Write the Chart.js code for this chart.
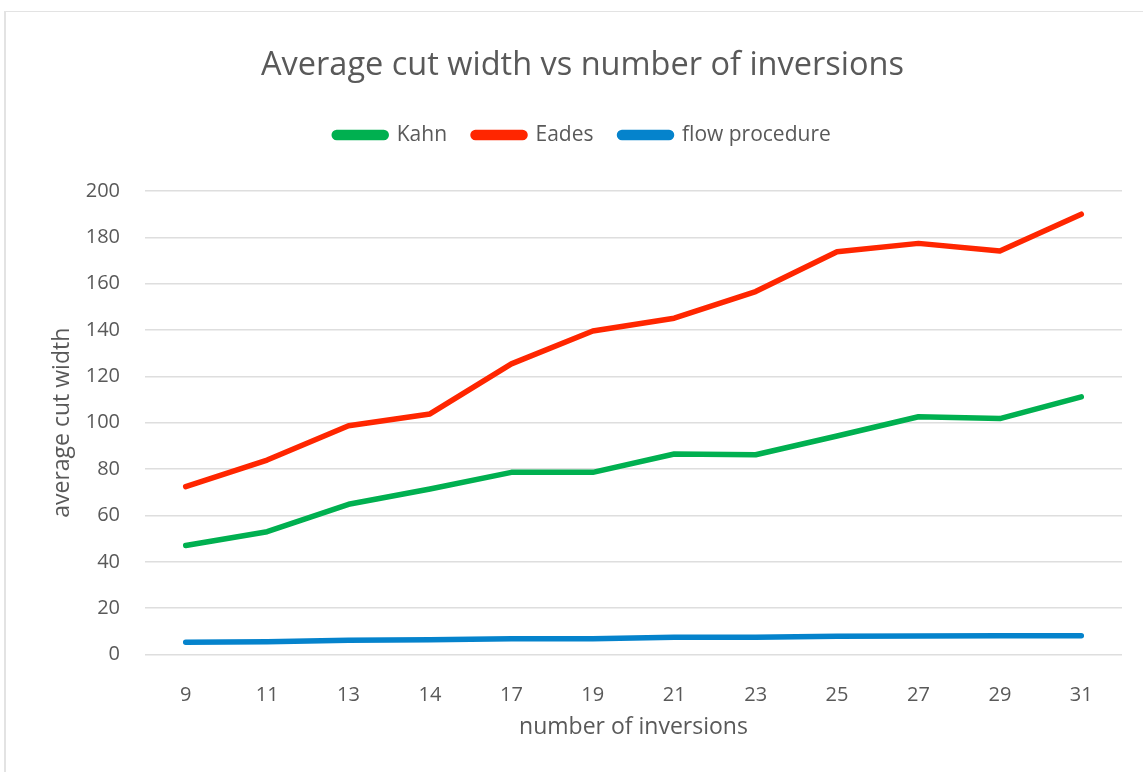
<!DOCTYPE html>
<html>
<head>
<meta charset="utf-8">
<title>Average cut width vs number of inversions</title>
<script src="https://cdn.jsdelivr.net/npm/chart.js@4"></script>
<style>
  html, body { margin: 0; padding: 0; background: #fff; overflow: hidden; }
  #frame {
    position: absolute; left: 4px; top: 11px; width: 1200px; height: 800px;
    border-left: 2px solid #e3e3e3; border-top: 1px solid #e3e3e3;
  }
  #wrap { position: absolute; left: 0; top: 0; width: 1165px; height: 772px; }
</style>
</head>
<body>
<div id="frame"></div>
<div id="wrap"><canvas id="canvas" width="1165" height="772"></canvas></div>
<script>
const inversions = ['9', '11', '13', '14', '17', '19', '21', '23', '25', '27', '29', '31'];
const kahn  = [47.0, 53.0, 64.8, 71.4, 78.6, 78.6, 86.5, 86.2, 94.3, 102.6, 101.8, 111.2];
const eades = [72.4, 83.9, 98.7, 103.8, 125.4, 139.6, 145.1, 156.6, 173.8, 177.4, 174.1, 190.0];
const flow  = [5.3, 5.5, 6.1, 6.4, 6.8, 6.8, 7.4, 7.4, 7.9, 8.0, 8.1, 8.1];
const yTicks = [0, 20, 40, 60, 80, 100, 120, 140, 160, 180, 200];

const fontFamily = '"Open Sans", Lato, sans-serif';
const textColor = '#595959';
Chart.defaults.font.family = fontFamily;
Chart.defaults.color = textColor;

function series(label, data, color){
    return {
        label: label,
        data: data,
        borderColor: color,
        backgroundColor: color,
        borderWidth: 5.5,
        borderCapStyle: 'round',
        borderJoinStyle: 'round',
        pointRadius: 0,
        pointHoverRadius: 0,
        tension: 0,
        fill: false
    };
}

const ctx = document.getElementById('canvas').getContext('2d');
const myChart = new Chart(ctx, {
    type: 'line',
    data: {
        labels: inversions,
        datasets: [
            series('Kahn', kahn, '#00b050'),
            series('Eades', eades, '#ff2600'),
            series('flow procedure', flow, '#0583cc')
        ]
    },
    options: {
        responsive: false,
        animation: false,
        layout: { padding: 0 },
        plugins: {
            title: {
                display: true,
                text: 'Average cut width vs number of inversions',
                color: textColor,
                font: { size: 32.5, weight: 'normal' },
                padding: { top: 46, bottom: 13.5 }
            },
            legend: {
                display: true,
                position: 'top',
                labels: {
                    boxWidth: 52,
                    boxHeight: 5,
                    padding: 26,
                    color: textColor,
                    font: { size: 21 },
                    useBorderRadius: true,
                    borderRadius: 2.5
                }
            },
            // empty block between legend and plot
            subtitle: {
                display: true,
                text: '',
                weight: 500,
                font: { size: 10 },
                padding: { top: 23.5, bottom: 0 }
            },
            tooltip: { enabled: false }
        },
        scales: {
            x: {
                offset: true,
                grid: { display: false },
                border: { display: false },
                ticks: { padding: 21, maxRotation: 0, font: { size: 20 }, color: textColor },
                title: {
                    display: true,
                    text: 'number of inversions',
                    color: textColor,
                    font: { size: 23 },
                    padding: { top: 0, bottom: 31.2 }
                },
                afterFit: function(scale){ scale.height = 117.5; }
            },
            y: {
                min: 0,
                max: 200,
                afterBuildTicks: function(scale){
                    scale.ticks = yTicks.map(v => ({ value: v }));
                },
                grid: { color: '#dedede', lineWidth: 1.5, drawTicks: false },
                border: { display: false },
                ticks: { padding: 25, font: { size: 20 }, color: textColor },
                title: {
                    display: true,
                    text: 'average cut width',
                    color: textColor,
                    font: { size: 23 },
                    padding: { top: 48.2, bottom: 0 }
                },
                afterFit: function(scale){ scale.width = 145; }
            },
            // blank strip on the right of the plot
            yRight: {
                position: 'right',
                display: true,
                grid: { display: false },
                border: { display: false },
                ticks: { display: false },
                afterFit: function(scale){ scale.width = 43; }
            }
        }
    }
});
</script>
</body>
</html>
